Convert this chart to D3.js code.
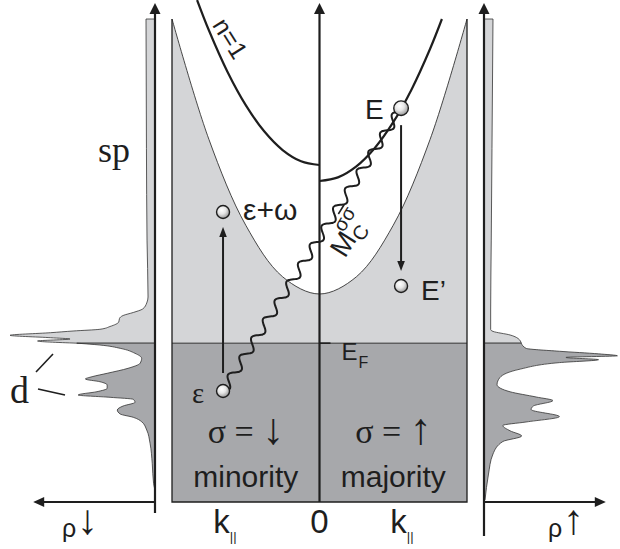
<!DOCTYPE html>
<html><head><meta charset="utf-8">
<script src="https://cdn.jsdelivr.net/npm/d3@7"></script>
<style>body{margin:0;background:#fff} svg{display:block}</style>
</head><body>
<svg id="c" width="620" height="549"></svg>
<script>
// ---------- data (k in units of box half-width, E with E_F = 0, rho in arb. units) ----------
const innerBandK = [-1, -0.75, -0.5, -0.25, 0, 0.25, 0.5, 0.75, 1];
const innerBandE = [10.0, 6.289, 3.638, 2.047, 1.517, 2.047, 3.638, 6.289, 10.0];

const minorityN1K = [-0.83, -0.75, -0.625, -0.5, -0.375, -0.25, -0.125, 0];
const minorityN1E = [10.586, 9.652, 8.382, 7.343, 6.535, 5.958, 5.611, 5.496];

const majorityN1K = [0, 0.125, 0.25, 0.375, 0.5, 0.625, 0.75, 0.83];
const majorityN1E = [5.002, 5.115, 5.455, 6.022, 6.816, 7.836, 9.083, 10.0];

const stateNames = ["E", "E\u2019", "\u03b5+\u03c9", "\u03b5"];
const stateK = [0.553, 0.553, -0.654, -0.654];
const stateE = [7.25, 1.763, 4.046, -1.476];

// minority (left) DOS, listed from top of band down
const dosMinE = [10.0, 6.0, 3.18, 1.424, 1.239, 1.054, 0.946, 0.853, 0.761, 0.653, 0.514, 0.428, 0.375, 0.323, 0.242, 0.168, 0.128, 0.067, 0,
  -0.057, -0.159, -0.313, -0.467, -0.621, -0.776, -0.930, -1.035, -1.106, -1.189, -1.291, -1.393, -1.497, -1.599, -1.670, -1.732, -1.824,
  -1.939, -2.062, -2.185, -2.287, -2.423, -2.679, -3.089, -3.706, -4.323, -4.530];
const dosMinRho = [0.062, 0.059, 0.055, 0.048, 0.057, 0.085, 0.15, 0.22, 0.245, 0.25, 0.31, 0.38, 0.565, 0.72, 1.0, 0.72, 0.586, 0.81, 0.54,
  0.38, 0.24, 0.138, 0.092, 0.103, 0.186, 0.33, 0.434, 0.48, 0.38, 0.33, 0.33, 0.40, 0.53, 0.31, 0.15, 0.138,
  0.22, 0.26, 0.24, 0.15, 0.092, 0.057, 0.034, 0.019, 0.01, 0];

// majority (right) DOS
const dosMajE = [10.0, 6.0, 3.18, 1.023, 0.418, 0.363, 0.252, 0.144, 0,
  -0.16, -0.25, -0.33, -0.39, -0.44, -0.51, -0.60, -0.80, -1.059, -1.278, -1.500, -1.661, -1.772, -1.939, -2.046,
  -2.266, -2.432, -2.540, -2.704, -2.864, -3.034, -3.419, -4.067, -4.838];
const dosMajRho = [0.062, 0.055, 0.05, 0.046, 0.046, 0.062, 0.18, 0.235, 0.257,
  0.29, 0.52, 0.79, 0.92, 0.565, 0.79, 0.52, 0.25, 0.11, 0.09, 0.18, 0.36, 0.475, 0.34, 0.325,
  0.52, 0.29, 0.13, 0.18, 0.26, 0.13, 0.062, 0.03, 0.007];

const kTickValues = [-0.6, 0, 0.6];
const kTickLabels = ["k", "0", "k"];

// ---------- drawing ----------
const svg = d3.select("#c");
const LIGHT = "#d4d5d7", DARK = "#a7a8ab", INK = "#1e1e1e";
const SANS = "'Liberation Sans', Arial, Helvetica, sans-serif";
const SERIF = "'Liberation Serif', 'Times New Roman', serif";

const x = d3.scaleLinear().domain([-1, 1]).range([172, 467]);
const y = d3.scaleLinear().domain([-4.9, 10]).range([502, 19]);
const rhoL = d3.scaleLinear().domain([0, 1]).range([155, 10]);
const rhoR = d3.scaleLinear().domain([0, 1]).range([484, 629]);

const defs = svg.append("defs");
const grad = defs.append("radialGradient").attr("id", "ball").attr("cx", "40%").attr("cy", "35%").attr("r", "70%");
grad.append("stop").attr("offset", "0%").attr("stop-color", "#ffffff");
grad.append("stop").attr("offset", "45%").attr("stop-color", "#e6e6e6");
grad.append("stop").attr("offset", "100%").attr("stop-color", "#8e8e8e");

svg.append("rect").attr("width", 620).attr("height", 549).attr("fill", "#fff");

// central box
svg.append("rect").attr("x", x(-1)).attr("y", y(10)).attr("width", x(1) - x(-1)).attr("height", y(0) - y(10)).attr("fill", LIGHT);
const inner = innerBandK.map((k, i) => ({k, E: innerBandE[i]}));
svg.append("path").datum(inner)
  .attr("d", d3.area().x(d => x(d.k)).y0(y(10)).y1(d => y(d.E)).curve(d3.curveCatmullRom))
  .attr("fill", "#fff");
svg.append("path").datum(inner)
  .attr("d", d3.line().x(d => x(d.k)).y(d => y(d.E)).curve(d3.curveCatmullRom))
  .attr("fill", "none").attr("stroke", "#333").attr("stroke-width", 0.9);
svg.append("rect").attr("x", x(-1)).attr("y", y(0)).attr("width", x(1) - x(-1)).attr("height", y(-4.9) - y(0)).attr("fill", DARK);
svg.append("line").attr("x1", x(-1)).attr("x2", x(1)).attr("y1", y(0)).attr("y2", y(0)).attr("stroke", "#333").attr("stroke-width", 1);
svg.append("path").attr("d", `M${x(-1)},${y(10)}V${y(-4.9)}H${x(1)}V${y(10)}`)
  .attr("fill", "none").attr("stroke", INK).attr("stroke-width", 1.3);

// DOS panels
function dos(Es, rs, sc) {
  const pts = Es.map((E, i) => ({E, r: rs[i]}));
  const up = pts.filter(d => d.E >= 0), dn = pts.filter(d => d.E <= 0);
  const ar = d3.area().y(d => y(d.E)).x0(sc(0)).x1(d => sc(d.r)).curve(d3.curveMonotoneY);
  svg.append("path").datum(up).attr("d", ar).attr("fill", LIGHT).attr("stroke", "#333").attr("stroke-width", 0.8);
  svg.append("path").datum(dn).attr("d", ar).attr("fill", DARK).attr("stroke", "#333").attr("stroke-width", 0.8);
}
dos(dosMinE, dosMinRho, rhoL);
dos(dosMajE, dosMajRho, rhoR);

// arrows / axes helpers
function tri(tx, ty, dx, dy, len, hw) {
  const bx = tx - dx * len, by = ty - dy * len;
  const px = -dy * hw, py = dx * hw;
  return `M${tx},${ty}L${bx + px},${by + py}L${bx - px},${by - py}Z`;
}
function axisV(ax, top, bottom) {
  svg.append("line").attr("x1", ax).attr("x2", ax).attr("y1", top + 8).attr("y2", bottom).attr("stroke", INK).attr("stroke-width", 2.2);
  svg.append("path").attr("d", tri(ax, top, 0, -1, 11, 5.5)).attr("fill", INK);
}
axisV(rhoL(0), 3, 513);
axisV(rhoR(0), 3, 536);
axisV(x(0), 3, y(-4.9));
// rho axes
const yB = y(-4.9);
svg.append("line").attr("x1", rhoL(0)).attr("x2", rhoL(0.77)).attr("y1", yB).attr("y2", yB).attr("stroke", INK).attr("stroke-width", 2);
svg.append("path").attr("d", tri(rhoL(0.84), yB, -1, 0, 11, 5)).attr("fill", INK);
svg.append("line").attr("x1", rhoR(0)).attr("x2", rhoR(0.77)).attr("y1", yB).attr("y2", yB).attr("stroke", INK).attr("stroke-width", 2);
svg.append("path").attr("d", tri(rhoR(0.84), yB, 1, 0, 11, 5)).attr("fill", INK);

// E_F tick
svg.append("line").attr("x1", x(0)).attr("x2", x(0) + 11).attr("y1", y(0)).attr("y2", y(0)).attr("stroke", INK).attr("stroke-width", 1.6);

// n=1 bands
const lineKE = d3.line().x(d => x(d.k)).y(d => y(d.E)).curve(d3.curveCatmullRom);
svg.append("path").datum(minorityN1K.map((k, i) => ({k, E: minorityN1E[i]})))
  .attr("d", lineKE).attr("fill", "none").attr("stroke", INK).attr("stroke-width", 2.2);
svg.append("path").datum(majorityN1K.map((k, i) => ({k, E: majorityN1E[i]})))
  .attr("d", lineKE).attr("fill", "none").attr("stroke", INK).attr("stroke-width", 2.2);

// states
const st = stateNames.map((n, i) => ({n, px: x(stateK[i]), py: y(stateE[i])}));
const [sE, sE2, sEw, sEps] = st;

// wavy line eps -> E
(function () {
  const x0 = sEps.px, y0 = sEps.py, x1 = sE.px, y1 = sE.py;
  const L = Math.hypot(x1 - x0, y1 - y0), ux = (x1 - x0) / L, uy = (y1 - y0) / L;
  const nx = -uy, ny = ux, lam = 22, A = 4.6;
  const pts = [];
  for (let s = 0; s <= L; s += 1) {
    const o = A * Math.sin(2 * Math.PI * s / lam);
    pts.push([x0 + ux * s + nx * o, y0 + uy * s + ny * o]);
  }
  svg.append("path").attr("d", d3.line().curve(d3.curveBasis)(pts)).attr("fill", "none").attr("stroke", INK).attr("stroke-width", 2);
})();

// transition arrows
svg.append("line").attr("x1", sEps.px).attr("x2", sEps.px).attr("y1", sEps.py - 18).attr("y2", sEw.py + 20).attr("stroke", INK).attr("stroke-width", 2);
svg.append("path").attr("d", tri(sEps.px, sEw.py + 15, 0, -1, 10, 3.8)).attr("fill", INK);
svg.append("line").attr("x1", sE.px).attr("x2", sE.px).attr("y1", sE.py + 17).attr("y2", sE2.py - 20).attr("stroke", INK).attr("stroke-width", 2);
svg.append("path").attr("d", tri(sE.px, sE2.py - 15, 0, 1, 10, 3.8)).attr("fill", INK);

// circles
svg.selectAll("circle.st").data(st).join("circle").attr("class", "st")
  .attr("cx", d => d.px).attr("cy", d => d.py).attr("r", (d, i) => i === 0 ? 7.3 : 6.5)
  .attr("fill", "url(#ball)").attr("stroke", INK).attr("stroke-width", 1.4);

// ---------- text ----------
function txt(s, tx, ty, size, fam, anchor, parent) {
  return (parent || svg).append("text").attr("x", tx).attr("y", ty).attr("font-size", size).attr("font-family", fam)
    .attr("text-anchor", anchor || "start").attr("fill", INK).text(s);
}
txt(sE.n, sE.px - 36, sE.py + 11, 28, SANS);
txt(sE2.n, sE2.px + 20, sE2.py + 14, 28, SANS);
txt(sEw.n, sEw.px + 20, sEw.py + 8, 30, SANS);
txt(sEps.n, sEps.px - 31, sEps.py + 12, 29, SERIF);

// E_F label
const ef = txt("E", x(0) + 22, y(0) + 17, 24, SANS);
ef.append("tspan").attr("font-size", 16).attr("dy", 8).attr("dx", 1).text("F");

// spin labels
function spin(cx, arrow) {
  const t = txt("\u03c3 = ", cx - 38, 443, 34, SERIF);
  t.append("tspan").attr("font-size", 44).attr("dy", 1).text(arrow);
}
spin(x(-0.5), "\u2193");
spin(x(0.5), "\u2191");
txt("minority", x(-0.5), 487, 30, SANS, "middle");
txt("majority", x(0.5), 487, 30, SANS, "middle");

// k axis labels
kTickValues.forEach((v, i) => {
  const t = txt(kTickLabels[i], x(v) + (i === 1 ? 0 : -6), 533, 33, SANS, "middle");
  if (i !== 1) t.append("tspan").attr("font-size", 13).attr("dy", 8).attr("dx", 0).text("||");
});

// DOS labels
txt("sp", 98, 162, 36, SERIF);
txt("d", 10, 403, 38, SERIF);
svg.append("line").attr("x1", 36).attr("y1", 372).attr("x2", 53).attr("y2", 354).attr("stroke", INK).attr("stroke-width", 1.6);
svg.append("line").attr("x1", 38).attr("y1", 389).attr("x2", 65).attr("y2", 395).attr("stroke", INK).attr("stroke-width", 1.6);
function rhoLabel(tx, arrow) {
  const g = svg.append("g");
  const r = txt("\u03c1", tx, 537, 25, SANS, "start", g);
  const w = r.node().getComputedTextLength();
  txt(arrow, tx + w + 0.5, 534, 42, SERIF, "start", g);
}
rhoLabel(62, "\u2193");
rhoLabel(548, "\u2191");

// n=1 label
svg.append("text").attr("transform", "translate(223,43) rotate(58)").attr("font-size", 25).attr("font-family", SANS)
  .attr("text-anchor", "middle").attr("fill", INK).text("n=1");

// Coulomb matrix element label  M_C^{σ σ̄}
const mg = svg.append("g").attr("transform", "translate(345,259) rotate(-58)");
const mM = txt("M", 0, 0, 28, SANS, "start", mg);
const wM = mM.node().getComputedTextLength();
txt("C", wM, 6, 20, SANS, "start", mg);
const sig = txt("\u03c3\u03c3", wM - 2, -15, 20, SANS, "start", mg);
const ws = sig.node().getComputedTextLength() / 2;
mg.append("line").attr("x1", wM - 2 + ws + 1).attr("x2", wM - 2 + 2 * ws - 0.5)
  .attr("y1", -29.5).attr("y2", -29.5).attr("stroke", INK).attr("stroke-width", 1.6);
</script>
</body></html>
